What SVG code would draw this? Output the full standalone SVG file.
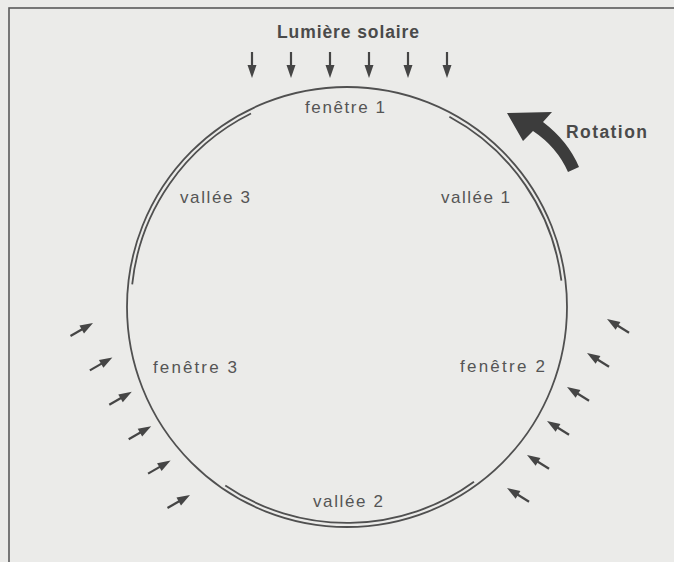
<svg xmlns="http://www.w3.org/2000/svg" xmlns:xlink="http://www.w3.org/1999/xlink" width="674" height="562" viewBox="0 0 674 562">
<style>
.lbl{font-family:"Liberation Sans",Arial,sans-serif;font-size:17px;fill:#555;}
.ttl{font-family:"Liberation Sans",Arial,sans-serif;font-size:17.5px;font-weight:bold;fill:#4a4a4a;}
.ring{fill:none;stroke:#505050;stroke-width:1.8;}
.frame{fill:none;stroke:#5a5a5a;stroke-width:1.6;}
</style>
<defs>
<g id="arr">
<line x1="-26" y1="0" x2="-9" y2="0" stroke="#454545" stroke-width="2.2"/>
<polygon points="0,0 -13,-4.5 -13,4.5" fill="#454545"/>
</g>
</defs>
<rect x="0" y="0" width="674" height="562" fill="#ebebe9"/>
<rect class="frame" x="9" y="8" width="700" height="600"/>

<g id="title">
<text class="ttl" x="277" y="38" textLength="142" lengthAdjust="spacing">Lumière solaire</text>
</g>

<g id="disc">
<circle class="ring" cx="347" cy="307" r="220"/>
</g>

<g id="vallee1">
<path class="ring" d="M449.4,116.8 A216,216 0 0 1 561.4,280.7"/>
<text class="lbl" x="441" y="203" textLength="69" lengthAdjust="spacing">vallée 1</text>
</g>
<g id="vallee2">
<path class="ring" d="M474,481.7 A216,216 0 0 1 225.3,485.4"/>
<text class="lbl" x="313" y="507" textLength="70" lengthAdjust="spacing">vallée 2</text>
</g>
<g id="vallee3">
<path class="ring" d="M132.2,284.4 A216,216 0 0 1 251,113.5"/>
<text class="lbl" x="180" y="203" textLength="70" lengthAdjust="spacing">vallée 3</text>
</g>

<g id="fenetre1">
<text class="lbl" x="305" y="113" textLength="80" lengthAdjust="spacing">fenêtre 1</text>
</g>
<g id="fenetre2">
<text class="lbl" x="460" y="372" textLength="85" lengthAdjust="spacing">fenêtre 2</text>
</g>
<g id="fenetre3">
<text class="lbl" x="153" y="373" textLength="84" lengthAdjust="spacing">fenêtre 3</text>
</g>

<g id="rotation">
<path d="M568,172 Q557,147 533,131 L523,141 L507,113 L552,112 L543,122 Q568,141 579,167 Z" fill="#3c3c3c"/>
<text class="ttl" x="566" y="138" textLength="81" lengthAdjust="spacing">Rotation</text>
</g>

<g id="connectors">
<use xlink:href="#arr" transform="translate(252,78) rotate(90)"/>
<use xlink:href="#arr" transform="translate(291,78) rotate(90)"/>
<use xlink:href="#arr" transform="translate(330,78) rotate(90)"/>
<use xlink:href="#arr" transform="translate(369,78) rotate(90)"/>
<use xlink:href="#arr" transform="translate(408,78) rotate(90)"/>
<use xlink:href="#arr" transform="translate(447,78) rotate(90)"/>

<use xlink:href="#arr" transform="translate(93,323) rotate(-30)"/>
<use xlink:href="#arr" transform="translate(112.4,357.4) rotate(-30)"/>
<use xlink:href="#arr" transform="translate(131.8,391.8) rotate(-30)"/>
<use xlink:href="#arr" transform="translate(151.2,426.2) rotate(-30)"/>
<use xlink:href="#arr" transform="translate(170.6,460.6) rotate(-30)"/>
<use xlink:href="#arr" transform="translate(190,495) rotate(-30)"/>

<use xlink:href="#arr" transform="translate(607,319) rotate(212)"/>
<use xlink:href="#arr" transform="translate(587,353) rotate(212)"/>
<use xlink:href="#arr" transform="translate(567,387) rotate(212)"/>
<use xlink:href="#arr" transform="translate(547,421) rotate(212)"/>
<use xlink:href="#arr" transform="translate(527,455) rotate(212)"/>
<use xlink:href="#arr" transform="translate(507,488) rotate(212)"/>
</g>
</svg>
